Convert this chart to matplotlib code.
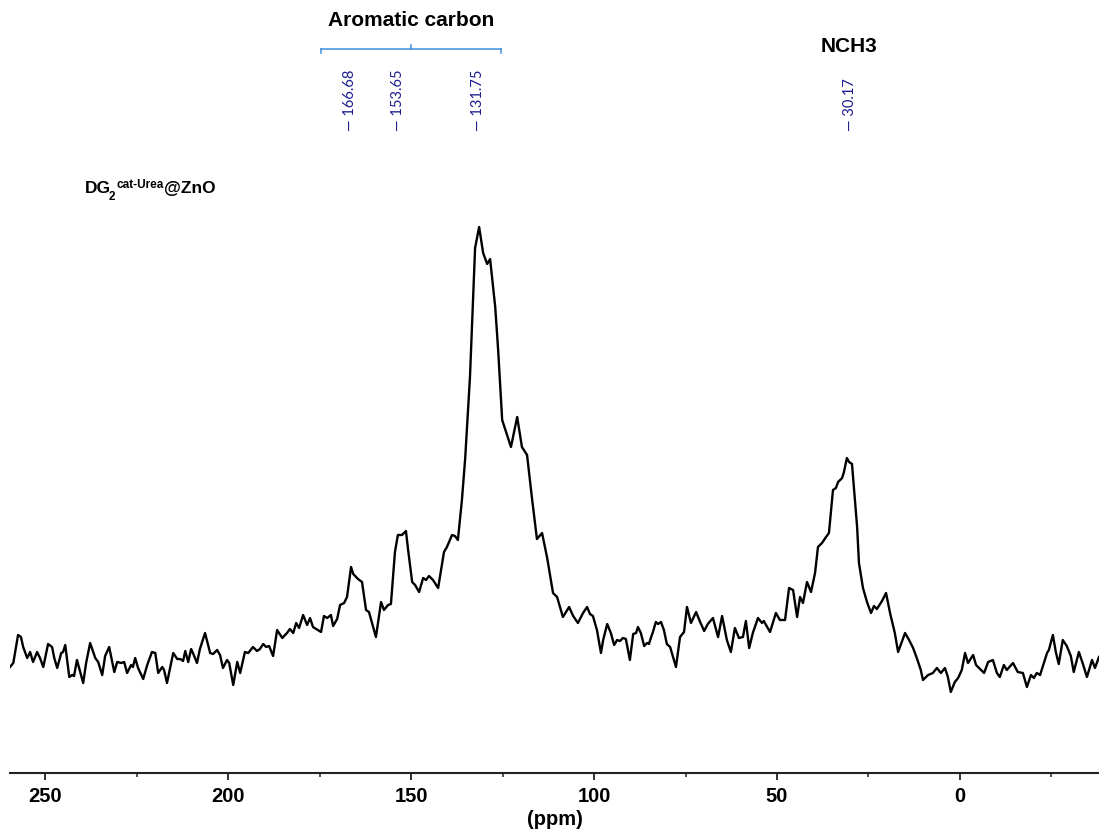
import numpy as np
import matplotlib
matplotlib.use("Agg")
import matplotlib.pyplot as plt
from matplotlib.transforms import blended_transform_factory

plt.rcParams['font.family'] = ['Liberation Sans', 'DejaVu Sans']

# 13C CP-MAS spectrum, chemical shift (ppm) and intensity (a.u.)
ppm = [
    259.6, 258.7, 257.4, 256.6, 256.0, 254.9, 254.1, 253.3, 252.2, 251.4,
    250.5, 249.2, 248.1, 247.5, 246.7, 245.6, 245.1, 244.5, 243.4, 242.6,
    242.1, 241.3, 239.6, 238.8, 237.7, 236.3, 235.5, 234.4, 233.6, 232.5,
    231.1, 230.3, 229.2, 228.4, 227.6, 226.5, 226.0, 225.4, 224.6, 223.2,
    222.1, 220.8, 219.9, 219.1, 218.0, 217.5, 216.7, 215.0, 213.9, 213.1,
    212.3, 211.7, 210.9, 210.1, 209.6, 208.5, 207.7, 206.3, 204.9, 204.1,
    203.0, 202.2, 201.4, 200.3, 199.7, 198.6, 197.5, 196.7, 195.4, 194.5,
    193.2, 192.1, 191.3, 190.4, 189.6, 188.8, 187.7, 186.6, 185.2, 183.9,
    183.1, 182.2, 181.4, 180.6, 179.5, 178.4, 177.6, 176.8, 174.6, 173.8,
    172.9, 171.9, 171.3, 170.2, 169.4, 168.3, 167.5, 166.4, 165.8, 164.5,
    163.4, 162.3, 161.5, 159.6, 158.2, 157.4, 156.3, 155.5, 154.4, 153.6,
    152.5, 151.4, 150.8, 149.7, 148.9, 147.8, 146.7, 145.9, 145.1, 144.0,
    142.6, 141.0, 140.2, 138.8, 138.0, 137.2, 136.1, 135.2, 133.9, 132.5,
    131.4, 130.3, 129.2, 128.4, 127.0, 126.2, 125.1, 122.7, 121.0, 119.7,
    118.3, 116.9, 115.6, 114.2, 112.8, 111.2, 110.1, 108.5, 106.8, 105.7,
    104.4, 103.0, 101.9, 101.1, 100.3, 99.2, 98.1, 97.5, 96.4, 95.4,
    94.5, 93.7, 92.9, 92.1, 91.3, 90.2, 89.3, 88.5, 88.0, 87.2,
    86.3, 85.5, 85.0, 84.2, 83.9, 83.1, 82.5, 81.7, 80.9, 80.1,
    79.2, 77.6, 76.5, 75.4, 74.6, 73.5, 72.1, 71.0, 69.9, 68.9,
    67.5, 66.1, 65.0, 63.7, 62.6, 61.5, 60.4, 59.3, 58.5, 57.6,
    56.6, 55.2, 54.1, 53.6, 51.9, 50.3, 49.2, 47.8, 46.7, 45.6,
    44.5, 43.7, 42.9, 41.8, 40.7, 39.6, 38.8, 37.7, 36.6, 35.8,
    34.7, 33.9, 33.3, 32.2, 31.7, 30.9, 30.3, 29.5, 28.1, 27.6,
    26.5, 25.4, 24.3, 23.5, 22.7, 21.3, 20.2, 19.1, 17.8, 16.9,
    15.0, 13.9, 12.8, 11.7, 10.7, 10.1, 8.7, 7.4, 6.3, 5.2,
    4.1, 3.3, 2.5, 1.4, 0.5, -0.5, -1.4, -2.2, -3.6, -4.4,
    -6.6, -7.7, -9.0, -10.1, -10.9, -12.0, -12.8, -14.5, -15.8, -17.2,
    -18.3, -19.4, -20.2, -21.0, -21.9, -23.8, -24.3, -25.4, -26.2, -27.0,
    -28.1, -29.2, -30.3, -31.1, -32.5, -33.6, -34.7, -36.1, -36.9, -38.0,
]
intensity = [
    21.2, 22.0, 27.6, 27.2, 25.2, 23.0, 24.2, 22.2, 24.2, 23.0,
    21.2, 25.8, 25.2, 23.0, 21.0, 24.0, 24.2, 25.6, 19.2, 19.6,
    19.4, 22.6, 18.0, 22.0, 26.0, 23.0, 22.2, 19.6, 23.4, 25.2,
    20.2, 22.2, 22.0, 22.2, 20.0, 21.6, 21.2, 23.0, 21.0, 18.8,
    21.6, 24.2, 24.0, 20.0, 21.2, 20.6, 18.0, 24.0, 22.8, 22.8,
    22.4, 24.4, 22.2, 24.8, 24.0, 22.0, 24.8, 28.0, 24.0, 23.8,
    24.6, 23.6, 21.0, 22.6, 22.0, 17.6, 22.2, 20.0, 24.2, 24.0,
    25.2, 24.4, 24.8, 25.8, 25.2, 25.4, 23.4, 28.6, 27.0, 28.0,
    28.8, 28.0, 30.0, 29.0, 31.6, 29.6, 31.0, 29.2, 28.2, 31.4,
    31.0, 31.6, 29.4, 30.8, 33.6, 34.0, 35.2, 41.2, 39.8, 38.8,
    38.2, 32.6, 32.2, 27.2, 34.2, 32.6, 33.6, 33.8, 44.2, 47.6,
    47.6, 48.4, 44.6, 38.2, 37.6, 36.2, 39.0, 38.6, 39.4, 38.6,
    37.0, 44.2, 45.2, 47.6, 47.4, 46.6, 54.6, 63.0, 79.2, 105.0,
    109.2, 104.0, 101.8, 102.8, 93.2, 84.6, 70.6, 65.2, 71.2, 65.2,
    63.6, 54.6, 46.8, 48.0, 43.0, 36.0, 35.2, 31.2, 33.2, 31.4,
    30.0, 32.0, 33.2, 31.8, 31.4, 28.6, 24.0, 26.6, 29.8, 28.0,
    25.6, 26.6, 26.4, 27.0, 26.8, 22.6, 27.8, 28.0, 29.2, 28.0,
    25.4, 26.0, 25.8, 27.6, 28.2, 30.2, 29.8, 30.2, 28.6, 25.8,
    25.2, 21.2, 27.2, 28.2, 33.2, 30.0, 32.2, 30.2, 28.4, 29.8,
    31.0, 27.2, 31.4, 26.6, 24.2, 29.0, 27.0, 27.2, 30.4, 25.0,
    28.0, 31.0, 30.0, 30.4, 28.2, 32.0, 30.6, 30.6, 37.0, 36.6,
    31.2, 35.2, 34.0, 38.2, 36.2, 40.0, 45.2, 46.0, 47.2, 48.0,
    56.6, 57.0, 58.2, 59.0, 60.2, 63.0, 62.2, 61.8, 49.2, 42.0,
    37.0, 34.2, 32.0, 33.4, 32.8, 34.4, 36.0, 32.0, 28.0, 24.2,
    28.0, 26.6, 25.0, 22.8, 20.6, 18.6, 19.6, 20.0, 21.0, 20.0,
    21.0, 19.2, 16.2, 18.2, 19.0, 20.6, 24.0, 22.0, 23.6, 21.6,
    20.0, 22.2, 22.6, 20.0, 19.2, 21.6, 20.6, 22.0, 20.2, 20.0,
    17.2, 19.6, 19.0, 20.0, 19.6, 24.0, 24.6, 27.6, 24.2, 21.8,
    26.6, 25.4, 23.4, 20.2, 24.2, 21.8, 19.2, 22.6, 21.0, 23.2,
]

# picked peaks
peak_labels = ['166.68', '153.65', '131.75', '30.17']
peak_ppm = [166.68, 153.65, 131.75, 30.17]

# integration bracket for the aromatic region
aromatic_range = (174.6, 125.4)
aromatic_mid = 150.0

W, H = 1099, 832
fig = plt.figure(figsize=(W / 100, H / 100), dpi=100)
ax = fig.add_axes([10 / W, (H - 773) / H, (W - 10) / W, 773 / H])

ax.plot(ppm, intensity, color='black', lw=1.7)
ax.set_xlim(259.6, -38.0)
ax.set_ylim(0, 154.6)

for side in ['top', 'left', 'right']:
    ax.spines[side].set_visible(False)
ax.spines['bottom'].set_linewidth(1.5)
ax.spines['bottom'].set_color('#222222')
ax.set_yticks([])
ax.set_xticks([250, 200, 150, 100, 50, 0])
ax.set_xticks([225, 175, 125, 75, 25, -25], minor=True)
ax.tick_params(axis='x', which='major', length=5, width=1.3, pad=5,
               labelsize=14.5, color='#222222')
ax.tick_params(axis='x', which='minor', length=3, width=1.1, color='#222222')
for lbl in ax.get_xticklabels():
    lbl.set_fontweight('bold')
ax.set_xlabel('(ppm)', fontsize=14.5, fontweight='bold', labelpad=3)

trans = blended_transform_factory(ax.transData, fig.transFigure)

# peak labels
for lab, x in zip(peak_labels, peak_ppm):
    ax.text(x, (H - 131) / H, '\u2014 ' + lab, transform=trans, rotation=90,
            ha='center', va='bottom', fontsize=10.5, color='#1c1c8f',
            family=['Lato', 'DejaVu Sans'])

# bracket over aromatic carbons
by = (H - 49) / H
blue = '#3f8ede'
ax.plot(aromatic_range, [by, by], transform=trans, color=blue, lw=1.1,
        clip_on=False)
for x in aromatic_range:
    ax.plot([x, x], [by, by - 4 / H], transform=trans, color=blue,
            lw=1.1, clip_on=False)
ax.plot([aromatic_mid, aromatic_mid], [by, by + 4 / H], transform=trans,
        color=blue, lw=1.1, clip_on=False)

ax.text(np.mean(aromatic_range), (H - 20) / H, 'Aromatic carbon', transform=trans,
        ha='center', va='center', fontsize=15, fontweight='bold')
ax.text(30.3, (H - 47) / H, 'NCH3', transform=trans,
        ha='center', va='center', fontsize=15, fontweight='bold')

# sample name with sub/superscripts
t1 = fig.text(85 / W, (H - 193) / H, 'DG', fontsize=12.5, fontweight='bold',
              va='baseline')
t2 = ax.annotate('2', xy=(1, 0), xycoords=t1, xytext=(-1.5, -3),
                 textcoords='offset points', fontsize=8.5, fontweight='bold',
                 va='baseline', ha='left')
t3 = ax.annotate('cat-Urea', xy=(1, 1), xycoords=(t2, t1), xytext=(0.5, -5),
                 textcoords='offset points', fontsize=8.5, fontweight='bold',
                 va='baseline', ha='left')
ax.annotate('@ZnO', xy=(1, 0), xycoords=(t3, t1), xytext=(0, 0),
            textcoords='offset points', fontsize=12.5, fontweight='bold',
            va='bottom', ha='left')

fig.savefig('out.png', dpi=100)
